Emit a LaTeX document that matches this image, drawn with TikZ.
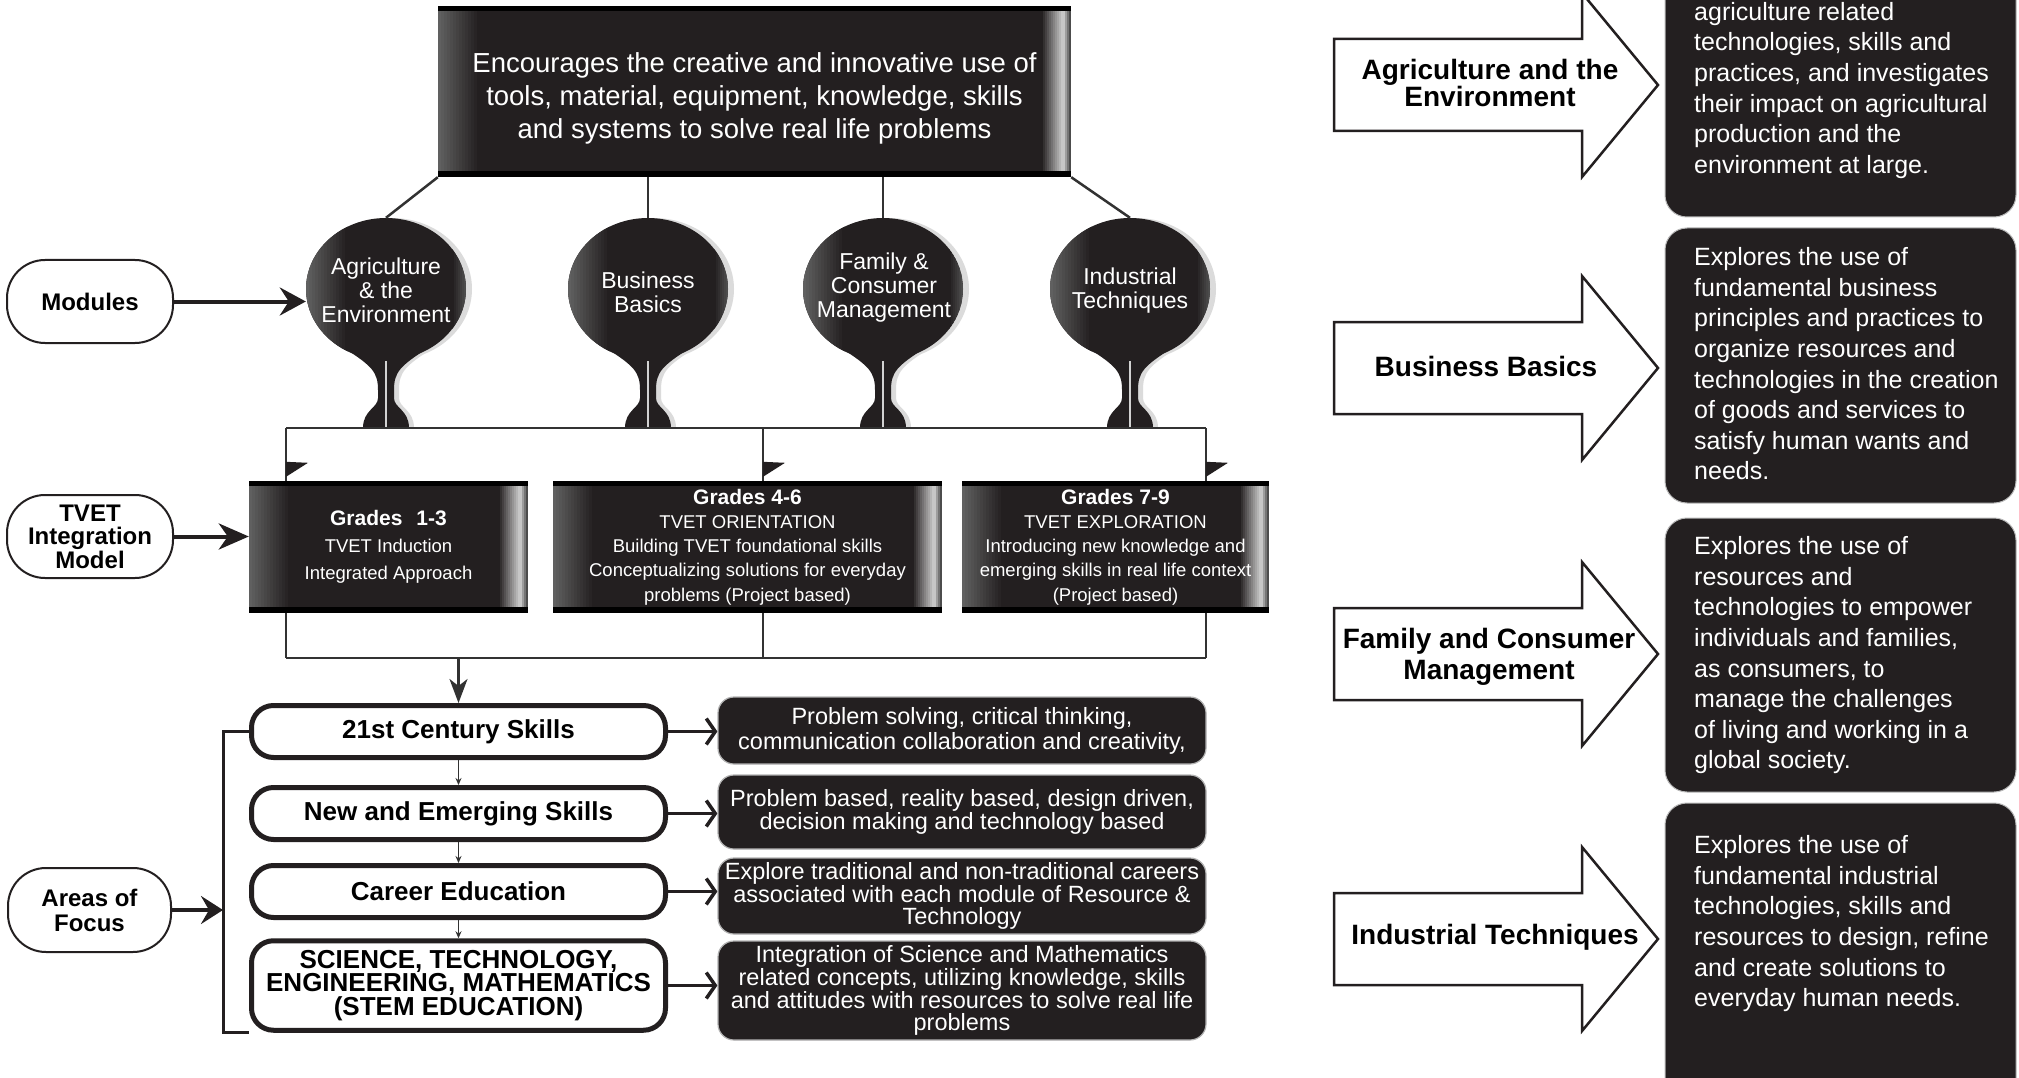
\documentclass[tikz,border=0pt]{standalone}
\usepackage{fontspec}
\setmainfont{Liberation Sans}
\usetikzlibrary{shapes.geometric,shapes.misc,arrows.meta,calc}
\definecolor{ink}{RGB}{35,31,32}
\definecolor{wirec}{RGB}{50,50,50}
\colorlet{edgeL}{gray!75!black}
\colorlet{edgeRa}{gray!45}
\colorlet{edgeRb}{gray!60!black}
\newcommand{\myfs}[2]{\fontsize{#1}{#2}\selectfont}
\tikzset{
 cylbox/.style={rectangle, fill=ink, inner sep=0pt, text=white, align=center,
   path picture={
     \foreach \k in {0,...,13}{
       \pgfmathsetmacro\pc{100*\k/13}
       \fill[ink!\pc!edgeL] ([xshift=\k*3pt]path picture bounding box.south west) rectangle ([xshift=\k*3pt+3.4pt]path picture bounding box.north west);
     }
     \foreach \k in {0,...,10}{
       \pgfmathsetmacro\pc{100*\k/10}
       \fill[edgeRa!\pc!ink] ([xshift=-30pt+\k*2pt]path picture bounding box.south east) rectangle ([xshift=-27.6pt+\k*2pt]path picture bounding box.north east);
     }
     \foreach \k in {0,...,3}{
       \pgfmathsetmacro\pc{100*\k/3}
       \fill[edgeRb!\pc!edgeRa] ([xshift=-8pt+\k*2pt]path picture bounding box.south east) rectangle ([xshift=-5.6pt+\k*2pt]path picture bounding box.north east);
     }
     \fill[black] (path picture bounding box.north west) rectangle ([yshift=-5pt]path picture bounding box.north east);
     \fill[black] (path picture bounding box.south west) rectangle ([yshift=6pt]path picture bounding box.south east);
   }},
 modball/.style={ellipse, fill=ink, inner sep=0pt, minimum width=160pt, minimum height=142pt,
   path picture={
     \foreach \k in {0,...,13}{
       \pgfmathsetmacro\pc{100*\k/13}
       \fill[ink!\pc!edgeL] ([xshift=\k*3pt]path picture bounding box.south west) rectangle ([xshift=\k*3pt+3.4pt]path picture bounding box.north west);
     }
     \foreach \k in {0,...,6}{
       \pgfmathsetmacro\pc{100*\k/6}
       \fill[edgeRb!\pc!ink] ([xshift=-14pt+\k*2pt]path picture bounding box.south east) rectangle ([xshift=-11.6pt+\k*2pt]path picture bounding box.north east);
     }
   }},
 mtext/.style={text=white, align=center, inner sep=0pt, font=\myfs{23}{24}},
 conn/.style={draw=wirec, line width=2.5pt},
 stad/.style={rectangle, rounded corners=38pt, draw=ink, line width=2pt, fill=white, align=center, inner sep=0pt,
   minimum width=166pt, minimum height=83pt, font=\bfseries\myfs{24}{23.5}},
 wbox/.style={rectangle, rounded corners=22pt, draw=ink, line width=5pt, fill=white, align=center, inner sep=0pt,
   minimum width=414pt, minimum height=52pt, font=\bfseries\myfs{26}{23.5}},
 bbox/.style={rectangle, rounded corners=16pt, fill=ink, draw=gray!60, line width=1.2pt, text=white, align=center,
   inner sep=0pt, minimum width=488pt, font=\myfs{23.5}{21.5}},
 rbox/.style={rectangle, rounded corners=22pt, fill=ink, draw=gray!55, line width=1pt, minimum width=351pt, inner sep=0pt},
 rtext/.style={anchor=north west, text=white, align=left, inner sep=0pt, font=\myfs{25}{30.6}},
 atext/.style={align=center, inner sep=0pt, font=\bfseries\myfs{28}{25}},
 bigtip/.style={-{Stealth[length=26pt,width=28pt,inset=9pt]}},
 chev/.style={-{Straight Barb[length=9pt,width=26pt]}},
}
\begin{document}
\begin{tikzpicture}[x=1pt,y=-1pt]
\useasboundingbox (0,0) rectangle (2019,1078);
\fill[white] (0,0) rectangle (2019,1078);
\clip (0,0) rectangle (2019,1078);

% ---------- top box ----------
\node[cylbox, minimum width=633pt, minimum height=171pt] (top) at (754.5,91.5) {};
\node[text=white, align=center, font=\myfs{27.5}{33.3}, inner sep=0pt] (toptext) at (754.5,98.5)
  {Encourages the creative and innovative use of\\tools, material, equipment, knowledge, skills\\and systems to solve real life problems};

% ---------- module balls ----------
\foreach \xc [count=\i] in {392,654,889,1136}
  \node[ellipse, fill=gray!28, minimum width=160pt, minimum height=142pt, inner sep=0pt] (sh\i) at (\xc,289) {};
\foreach \xc in {386,648,883,1130}{
  \fill[gray!28] (\xc-37,348) .. controls (\xc-9,366) and (\xc-3,372) .. (\xc-3,390) -- (\xc-3,398)
     .. controls (\xc-3,408) and (\xc-18,410) .. (\xc-18,428) -- (\xc+28,428)
     .. controls (\xc+28,410) and (\xc+13,408) .. (\xc+13,398) -- (\xc+13,390)
     .. controls (\xc+13,372) and (\xc+19,366) .. (\xc+47,348) -- cycle;
  \fill[ink] (\xc-42,348) .. controls (\xc-14,366) and (\xc-8,372) .. (\xc-8,390) -- (\xc-8,398)
     .. controls (\xc-8,408) and (\xc-23,410) .. (\xc-23,428) -- (\xc+23,428)
     .. controls (\xc+23,410) and (\xc+8,408) .. (\xc+8,398) -- (\xc+8,390)
     .. controls (\xc+8,372) and (\xc+14,366) .. (\xc+42,348) -- cycle;
  \draw[gray!35, line width=1.3pt] (\xc,361) -- (\xc,427);
}
\node[modball] (m1) at (386,289) {};
\node[modball] (m2) at (648,289) {};
\node[modball] (m3) at (883,289) {};
\node[modball] (m4) at (1130,289) {};
\node[mtext] (mt1) at (386,290.5) {Agriculture\\\& the\\Environment};
\node[mtext] (mt2) at (648,292.5) {Business\\Basics};
\node[mtext] (mt3) at (884,288) {Family \&\\Consumer\\Management};
\node[mtext] (mt4) at (1130,291) {Industrial\\Techniques};

\draw[conn] (top.south west) -- (m1.north);
\draw[conn] (m2.north |- top.south) -- (m2.north);
\draw[conn] (m3.north |- top.south) -- (m3.north);
\draw[conn] (top.south east) -- (m4.north);

% ---------- grade boxes ----------
\node[cylbox, minimum width=279pt, minimum height=132pt, font=\myfs{18.5}{27}] (g1) at (388.5,547)
  {{\bfseries\myfs{21}{27}Grades\hspace{14pt}1-3}\\TVET Induction\\Integrated Approach};
\node[cylbox, minimum width=389pt, minimum height=132pt, font=\myfs{18.5}{24.3}] (g2) at (747.5,547)
  {{\bfseries\myfs{21}{24.3}Grades 4-6}\\TVET ORIENTATION\\Building TVET foundational skills\\Conceptualizing solutions for everyday\\problems (Project based)};
\node[cylbox, minimum width=307pt, minimum height=132pt, font=\myfs{18.5}{24.3}] (g3) at (1115.5,547)
  {{\bfseries\myfs{21}{24.3}Grades 7-9}\\TVET EXPLORATION\\Introducing new knowledge and\\emerging skills in real life context\\(Project based)};

% top bus
\coordinate (p1) at (286,428);
\coordinate (p2) at (763,428);
\coordinate (p3) at (1206,428);
\draw[conn] (p1) -- (p3);
\foreach \bp/\bg in {p1/g1,p2/g2,p3/g3}{
  \draw[conn] (\bp) -- (\bp |- \bg.north);
  \fill[ink] ($(\bp |- \bg.north)+(0,-4)$) -- ++(0,-15) -- ++(22,1) -- cycle;
}

% ---------- left column ----------
\node[stad] (mod) at (90,301.5) {Modules};
\node[stad] (tv) at (90,536.5) {TVET\\Integration\\Model};
\node[stad, minimum width=163pt, minimum height=84pt, font=\bfseries\myfs{24}{25}] (ar) at (89.5,910) {Areas of\\Focus};

\draw[draw=ink, line width=4pt, bigtip] (mod.east) -- (mod.east -| m1.west);
\draw[draw=ink, line width=4pt, -{Stealth[length=30pt,width=26pt,inset=9pt]}] (tv.east) -- (tv.east -| g1.west);

% ---------- areas of focus ----------
\node[wbox] (w1) at (458.5,731.5) {21st Century Skills};
\node[wbox] (w2) at (458.5,813.5) {New and Emerging Skills};
\node[wbox] (w3) at (458.5,891.5) {Career Education};
\node[wbox, minimum height=89.5pt] (w4) at (458.5,985.5) {SCIENCE, TECHNOLOGY,\\ENGINEERING, MATHEMATICS\\(STEM EDUCATION)};

\node[bbox, minimum height=67pt, font=\myfs{23.5}{25}] (b1) at (962,730.5)
  {Problem solving, critical thinking,\\communication collaboration and creativity,};
\node[bbox, minimum height=74pt] (b2) at (962,812)
  {Problem based, reality based, design driven,\\decision making and technology based};
\node[bbox, minimum height=76pt] (b3) at (962,896)
  {Explore traditional and non-traditional careers\\associated with each module of Resource \&\\Technology};
\node[bbox, minimum height=99pt] (b4) at (962,990.5)
  {Integration of Science and Mathematics\\related concepts, utilizing knowledge, skills\\and attitudes with resources to solve real life\\problems};

% bottom bus
\coordinate (q1) at (286,658);
\coordinate (q2) at (763,658);
\coordinate (q3) at (1206,658);
\draw[conn] (q1) -- (q3);
\foreach \bq/\bg in {q1/g1,q2/g2,q3/g3}
  \draw[conn] (\bq |- \bg.south) -- (\bq);
\draw[conn, -{Stealth[length=24pt,width=18pt,inset=7pt]}] (w1.north |- q1) -- (w1.north);

\draw[draw=wirec, line width=1pt, -{Stealth[length=7pt,width=6pt]}] (w1.south) -- (w2.north);
\draw[draw=wirec, line width=1pt, -{Stealth[length=7pt,width=6pt]}] (w2.south) -- (w3.north);
\draw[draw=wirec, line width=1pt, -{Stealth[length=7pt,width=6pt]}] (w3.south) -- (w4.north);

\foreach \i in {1,2,3,4}
  \draw[draw=ink, line width=3.5pt, chev] (w\i.east) -- (w\i.east -| b\i.west);

\coordinate (br) at (223,731.5);
\draw[draw=ink, line width=3pt] (w1.west) -- (br) |- (w4.south west);
\draw[draw=ink, line width=4pt, -{Stealth[length=22pt,width=28pt,inset=8pt]}] (ar.east) -- (ar.east -| br);

% ---------- right side ----------
\foreach \c in {85,368,654,939}
  \draw[line width=2.5pt, draw=ink, fill=white, line join=miter]
    (1334,\c-46) -- (1582,\c-46) -- (1582,\c-92) -- (1658,\c) -- (1582,\c+92) -- (1582,\c+46) -- (1334,\c+46) -- cycle;
\node[atext] (at1) at (1490,83) {Agriculture and the\\Environment};
\node[atext] (at2) at (1486,366) {Business Basics};
\node[atext, font=\bfseries\myfs{28}{31}] (at3) at (1489,657) {Family and Consumer\\Management};
\node[atext] (at4) at (1495,937) {Industrial Techniques};

\node[rbox, minimum height=257pt] (rb1) at (1840.5,88.5) {};
\node[rbox, minimum height=275pt] (rb2) at (1840.5,365.5) {};
\node[rbox, minimum height=274pt] (rb3) at (1840.5,655) {};
\node[rbox, minimum height=317pt] (rb4) at (1840.5,961.5) {};

\node[rtext] (rt1) at (1694,-1.4) {\strut agriculture related\\technologies, skills and\\practices, and investigates\\their impact on agricultural\\production and the\\environment at large.};
\node[rtext] (rt2) at (1694,244) {\strut Explores the use of\\fundamental business\\principles and practices to\\organize resources and\\technologies in the creation\\of goods and services to\\satisfy human wants and\\needs.};
\node[rtext] (rt3) at (1694,533) {\strut Explores the use of\\resources and\\technologies to empower\\individuals and families,\\as consumers, to\\manage the challenges\\of living and working in a\\global society.};
\node[rtext] (rt4) at (1694,832) {\strut Explores the use of\\fundamental industrial\\technologies, skills and\\resources to design, refine\\and create solutions to\\everyday human needs.};
\end{tikzpicture}
\end{document}
